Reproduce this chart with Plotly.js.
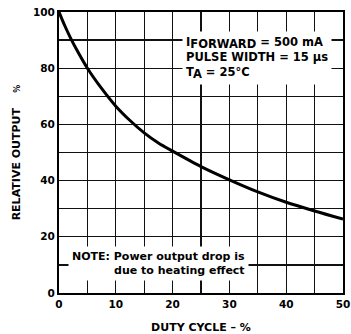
<!DOCTYPE html>
<html>
<head>
<meta charset="utf-8">
<script src="https://cdn.plot.ly/plotly-3.0.1.min.js"></script>
<style>html,body{margin:0;padding:0;background:#fff;}#chart{width:351px;height:334px;}</style>
</head>
<body>
<div id="chart"></div>
<script>
const dutyCycle = [0, 1, 2, 3, 5, 7.5, 10, 12.5, 15, 17.5, 20, 25, 30, 35, 40, 45, 50];
const relativeOutput = [100, 95.2, 90.9, 87, 80, 72.8, 66.5, 61.4, 57, 53.4, 50.5, 45, 40.3, 36, 32.3, 29.2, 26.3];
const xTickVals = [0, 10, 20, 30, 40, 50];
const yTickVals = [0, 20, 40, 60, 80, 100];
const xTitle = "DUTY CYCLE \u2013 %";
const yTitle = "RELATIVE OUTPUT\u00a0\u00a0\u00a0\u00a0<span style='font-size:8px'>%</span>";
const condText = "I<sub><span style='font-size:11.5px'>FORWARD</span></sub> = 500 mA<br>PULSE WIDTH = 15 \u03bcs<br>T<sub><span style='font-size:11.5px'>A</span></sub> = 25\u00b0C";
const noteText = "NOTE: Power output drop is<br>due to heating effect";

const F = 'DejaVu Sans';
const trace = {
  x: dutyCycle, y: relativeOutput, type: 'scatter', mode: 'lines',
  line: {color: '#000', width: 3, shape: 'spline', smoothing: 0.8},
  hoverinfo: 'skip'
};
const axisCommon = {
  showline: true, mirror: true, linecolor: '#000', linewidth: 2,
  showgrid: true, gridcolor: '#111', gridwidth: 1.3,
  zeroline: false, ticks: '',
  tickfont: {family: F, size: 10.5, color: '#000', weight: 'bold'},
};
const layout = {
  width: 351, height: 334,
  margin: {l: 59, r: 8, t: 12, b: 41},
  paper_bgcolor: '#fff', plot_bgcolor: '#fff',
  showlegend: false,
  font: {family: F, color: '#000', weight: 'bold'},
  xaxis: Object.assign({}, axisCommon, {
    range: [0, 50], tickvals: xTickVals,
    minor: {dtick: 5, showgrid: true, gridcolor: '#111', gridwidth: 1.3, ticks: ''},
    title: {text: xTitle, font: {family: F, size: 11, color: '#000', weight: 'bold'}, standoff: 16}
  }),
  yaxis: Object.assign({}, axisCommon, {
    range: [0, 100], tickvals: yTickVals,
    minor: {dtick: 10, showgrid: true, gridcolor: '#111', gridwidth: 1.3, ticks: ''},
    title: {text: yTitle, font: {family: F, size: 11, color: '#000', weight: 'bold'}, standoff: 10}
  }),
  annotations: [
    {xref: 'x', yref: 'y', x: 21.6, y: 93.2, xanchor: 'left', yanchor: 'top',
     text: condText, align: 'left', showarrow: false, bgcolor: '#fff', borderpad: 3,
     font: {family: F, size: 11.5, color: '#000', weight: 'bold'}},
    {xref: 'x', yref: 'y', x: 1.5, y: 16.6, xanchor: 'left', yanchor: 'top',
     text: noteText, align: 'right', showarrow: false, bgcolor: '#fff', borderpad: 3,
     font: {family: F, size: 11, color: '#000', weight: 'bold'}}
  ]
};
Plotly.newPlot('chart', [trace], layout, {staticPlot: true, displayModeBar: false});
</script>
</body>
</html>
